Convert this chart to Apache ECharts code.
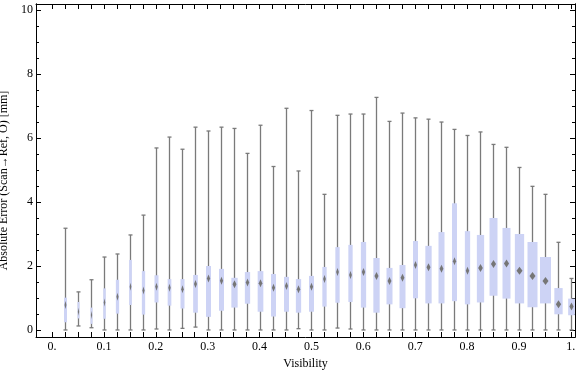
<!DOCTYPE html>
<html>
<head>
<meta charset="utf-8">
<script src="https://cdn.jsdelivr.net/npm/echarts@6/dist/echarts.min.js"></script>
<style>
  html, body { margin: 0; padding: 0; background: #fff; }
  #chart { width: 576px; height: 377px; }
</style>
</head>
<body>
<div id="chart"></div>
<script>
// visibility bins (box centres)
const visibility = [
  0.025, 0.05, 0.075, 0.1, 0.125, 0.15, 0.175, 0.2, 0.225, 0.25,
  0.275, 0.3, 0.325, 0.35, 0.375, 0.4, 0.425, 0.45, 0.475, 0.5,
  0.525, 0.55, 0.575, 0.6, 0.625, 0.65, 0.675, 0.7, 0.725, 0.75,
  0.775, 0.8, 0.825, 0.85, 0.875, 0.9, 0.925, 0.95, 0.975, 1.0
];
const whiskerLow = [
  0, 0.125, 0.07, 0, 0, 0, 0, 0.03, 0, 0.05,
  0.09, 0, 0, 0, 0, 0, 0, 0, 0.04, 0,
  0, 0.06, 0.03, 0, 0, 0, 0, 0, 0, 0,
  0, 0, 0, 0, 0, 0, 0, 0, 0, 0
];
const q1 = [
  0.24, 0.36, 0.19, 0.35, 0.51, 0.78, 0.48, 0.86, 0.76, 0.67,
  0.54, 0.41, 0.60, 0.70, 0.82, 0.57, 0.42, 0.57, 0.54, 0.57,
  0.73, 0.85, 0.875, 0.70, 0.54, 0.80, 0.68, 0.99, 0.83, 0.83,
  0.90, 0.80, 0.86, 1.07, 0.98, 0.83, 0.71, 0.83, 0.49, 0.46
];
const median = [
  0.78, 0.57, 0.47, 0.86, 1.04, 1.35, 1.23, 1.35, 1.32, 1.27,
  1.44, 1.61, 1.54, 1.43, 1.48, 1.46, 1.32, 1.375, 1.27, 1.35,
  1.59, 1.81, 1.72, 1.81, 1.69, 1.53, 1.63, 2.03, 1.96, 1.91,
  2.15, 1.85, 1.94, 2.06, 2.08, 1.85, 1.69, 1.53, 0.80, 0.73
];
const q3 = [
  1.01, 0.875, 0.70, 1.30, 1.57, 2.19, 1.84, 1.71, 1.59, 1.59,
  1.72, 2.0, 1.91, 1.63, 1.81, 1.84, 1.75, 1.66, 1.59, 1.69,
  1.97, 2.59, 2.66, 2.75, 2.25, 1.94, 2.03, 2.78, 2.63, 3.06,
  3.96, 3.09, 2.97, 3.5, 3.19, 3.0, 2.75, 2.28, 1.31, 0.98
];
const whiskerHigh = [
  3.18, 1.19, 1.57, 2.28, 2.375, 2.97, 3.59, 5.69, 6.03, 5.65,
  6.34, 6.22, 6.34, 6.30, 5.52, 6.40, 5.11, 6.93, 4.97, 6.86,
  4.24, 6.71, 6.75, 6.75, 7.27, 6.52, 6.78, 6.63, 6.59, 6.50,
  6.27, 6.08, 6.19, 5.80, 5.71, 5.08, 4.49, 4.24, 2.74, 1.61
];
// box widths in pixels, as drawn
const boxWidths = [
  3, 2, 2, 2.5, 3.3, 2.7, 3.3, 4, 3.7, 4,
  4.7, 5, 5, 6.3, 5.3, 5.7, 5, 5, 5.3, 5,
  4.3, 4.3, 4.3, 5.3, 6.3, 6, 6, 5, 6.3, 6,
  5, 5.3, 7.3, 8, 8, 9.3, 10, 11, 8.3, 6.7
];

const xLabelValues = [0, 0.1, 0.2, 0.3, 0.4, 0.5, 0.6, 0.7, 0.8, 0.9, 1];
const xLabelText = ['0.', '0.1', '0.2', '0.3', '0.4', '0.5', '0.6', '0.7', '0.8', '0.9', '1.'];
const xTickValues = [0].concat(visibility);
const yMajor = [0, 2, 4, 6, 8, 10];
const yMinor = [0.5, 1, 1.5, 2.5, 3, 3.5, 4.5, 5, 5.5, 6.5, 7, 7.5, 8.5, 9, 9.5];

const font = 'Liberation Serif';
const frameLine = { show: true, onZero: false, lineStyle: { color: '#000', width: 1 } };

const chart = echarts.init(document.getElementById('chart'));

const data = visibility.map((v, i) => [v, whiskerLow[i], q1[i], median[i], q3[i], whiskerHigh[i]]);

function renderBox(params, api) {
  const x = api.value(0);
  const w = boxWidths[params.dataIndex];
  const lo = api.coord([x, api.value(1)]);
  const b1 = api.coord([x, api.value(2)]);
  const md = api.coord([x, api.value(3)]);
  const b3 = api.coord([x, api.value(4)]);
  const hi = api.coord([x, api.value(5)]);
  const cx = Math.round(lo[0]) + 0.5;
  const cap = 2;
  const dw = Math.min(w * 0.32, 3);
  const dh = 4;
  const gray = { stroke: '#7a7a7a', lineWidth: 1.3 };
  return {
    type: 'group',
    children: [
      { type: 'line', shape: { x1: cx, y1: lo[1], x2: cx, y2: hi[1] }, style: gray },
      { type: 'line', shape: { x1: cx - cap, y1: lo[1], x2: cx + cap, y2: lo[1] }, style: gray },
      { type: 'line', shape: { x1: cx - cap, y1: hi[1], x2: cx + cap, y2: hi[1] }, style: gray },
      { type: 'rect', shape: { x: cx - w / 2, y: b3[1], width: w, height: b1[1] - b3[1] },
        style: { fill: '#cdd3f5' } },
      { type: 'polygon', shape: { points: [[cx, md[1] - dh], [cx + dw, md[1]], [cx, md[1] + dh], [cx - dw, md[1]]] },
        style: { fill: '#767676' } }
    ]
  };
}

chart.setOption({
  animation: false,
  grid: { left: 36, right: 1, top: 4, bottom: 40, outerBoundsMode: 'none', containLabel: false },
  xAxis: [
    {
      type: 'value', position: 'bottom', min: -0.031, max: 1.008,
      name: 'Visibility', nameLocation: 'middle', nameGap: 21,
      nameTextStyle: { fontFamily: font, fontSize: 12, color: '#000' },
      axisLine: frameLine,
      axisTick: { show: true, inside: true, length: 5, customValues: xTickValues, lineStyle: { color: '#000' } },
      axisLabel: {
        show: true, margin: 4, fontFamily: font, fontSize: 12, color: '#000',
        customValues: xLabelValues,
        formatter: v => xLabelText[xLabelValues.findIndex(t => Math.abs(t - v) < 1e-9)]
      },
      splitLine: { show: false }
    },
    {
      type: 'value', position: 'top', min: -0.031, max: 1.008,
      axisLine: frameLine,
      axisTick: { show: true, inside: true, length: 5, customValues: xTickValues, lineStyle: { color: '#000' } },
      axisLabel: { show: false },
      splitLine: { show: false }
    }
  ],
  yAxis: [
    {
      type: 'value', position: 'left', min: -0.22, max: 10.19,
      name: 'Absolute Error (Scan\u2192Ref, O) [mm]', nameLocation: 'middle', nameGap: 23,
      nameTextStyle: { fontFamily: font, fontSize: 12, color: '#000', padding: [0, 20, 0, 0] },
      axisLine: frameLine,
      axisTick: { show: true, inside: true, length: 5, customValues: yMajor, lineStyle: { color: '#000' } },
      axisLabel: { show: true, margin: 3, fontFamily: font, fontSize: 12, color: '#000', customValues: yMajor },
      splitLine: { show: false }
    },
    {
      type: 'value', position: 'left', min: -0.22, max: 10.19,
      axisLine: frameLine,
      axisTick: { show: true, inside: true, length: 3, customValues: yMinor, lineStyle: { color: '#000' } },
      axisLabel: { show: false },
      splitLine: { show: false }
    },
    {
      type: 'value', position: 'right', min: -0.22, max: 10.19,
      axisLine: frameLine,
      axisTick: { show: true, inside: true, length: 5, customValues: yMajor, lineStyle: { color: '#000' } },
      axisLabel: { show: false },
      splitLine: { show: false }
    },
    {
      type: 'value', position: 'right', min: -0.22, max: 10.19,
      axisLine: frameLine,
      axisTick: { show: true, inside: true, length: 3, customValues: yMinor, lineStyle: { color: '#000' } },
      axisLabel: { show: false },
      splitLine: { show: false }
    }
  ],
  series: [{
    type: 'custom',
    xAxisIndex: 0,
    yAxisIndex: 0,
    clip: true,
    renderItem: renderBox,
    encode: { x: 0, y: [1, 2, 3, 4, 5] },
    data: data
  }]
});
</script>
</body>
</html>
